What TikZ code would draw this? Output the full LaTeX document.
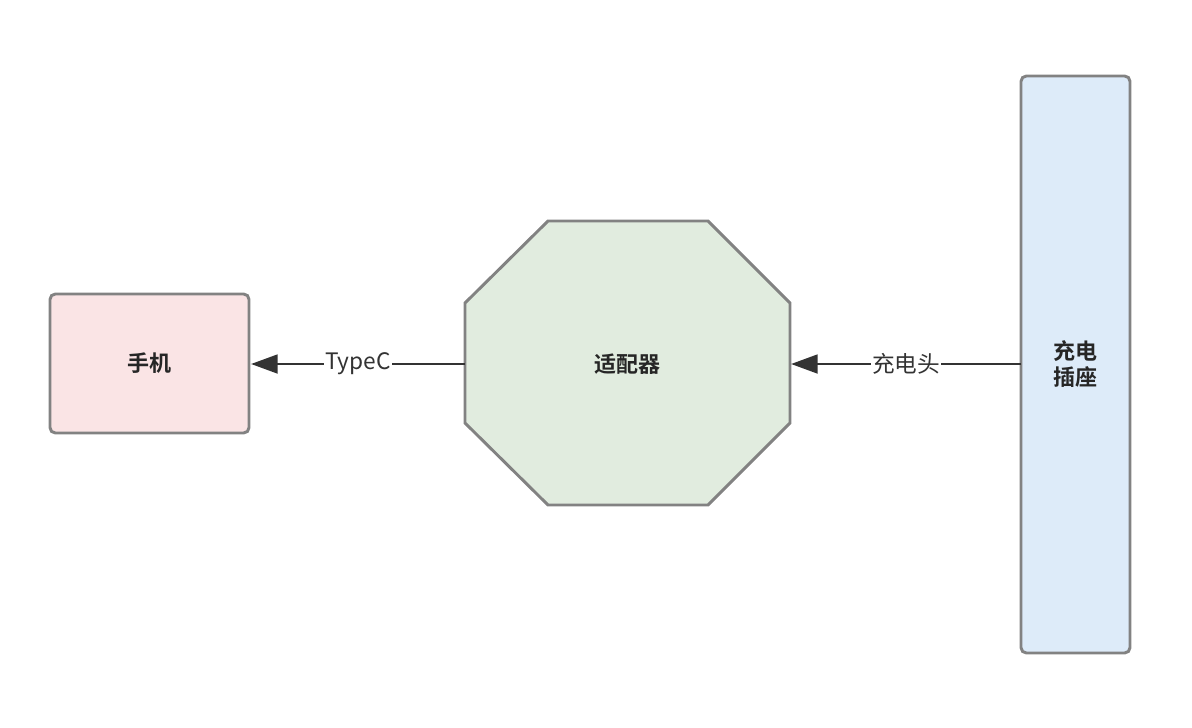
\documentclass[tikz,border=0pt]{standalone}
\usepackage{fontspec}
\setmainfont{Liberation Sans}
\newfontfamily\cjk{Noto Sans CJK SC}
\newfontfamily\cjkb{Noto Sans CJK SC Bold}
\usetikzlibrary{arrows.meta}
\definecolor{bord}{HTML}{828282}
\begin{document}
\begin{tikzpicture}[x=0.75pt,y=-0.75pt,
  box/.style={draw=bord,line width=2.2pt},
  lab/.style={font=\cjkb\fontsize{16.5}{20}\selectfont,text=black!85},
  conn/.style={line width=2.2pt,draw=black!80,-{Triangle[length=20pt,width=14pt]}},
  elab/.style={fill=white,inner sep=1pt,font=\cjk\fontsize{17}{20}\selectfont,text=black!80}]
\useasboundingbox (0,0) rectangle (1192,728);
\draw[box,fill={rgb,255:red,250;green,228;blue,229},rounded corners=4pt] (50,294) rectangle (249,433);
\node[lab] (phone) at (149.5,363.5) {手机};
\coordinate (phoneR) at (251,364);
\draw[box,fill={rgb,255:red,225;green,236;blue,223}] (548,221)--(708,221)--(790,303)--(790,423)--(708,505)--(548,505)--(465,423)--(465,303)--cycle;
\node[lab] (adp) at (627.5,364) {适配器};
\coordinate (adpL) at (465,364);
\coordinate (adpR) at (791,364);
\draw[box,fill={rgb,255:red,221;green,235;blue,249},rounded corners=4pt] (1021,76) rectangle (1130,653);
\node[lab,align=center] (sock) at (1075.5,364) {充电\\插座};
\coordinate (sockL) at (1021,364);
\draw[conn] (adpL) -- node[elab]{TypeC} (phoneR);
\draw[conn] (sockL) -- node[elab,pos=0.5]{充电头} (adpR);
\end{tikzpicture}
\end{document}
